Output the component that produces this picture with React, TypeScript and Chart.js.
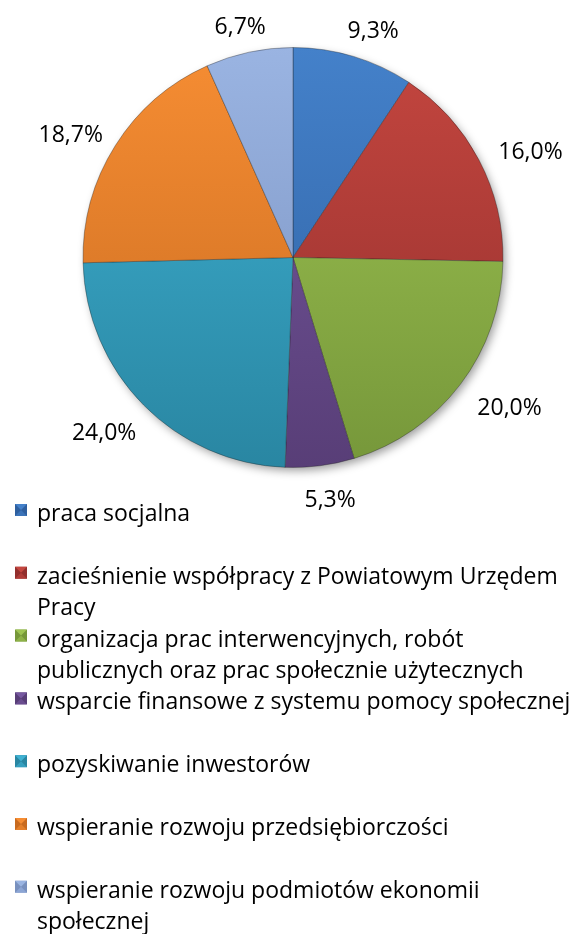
import React, { useEffect, useRef } from 'react';
import { Chart, registerables } from 'chart.js';

Chart.register(...registerables);

// ---- data ----
const categories: string[][] = [
  ['praca socjalna'],
  ['zacieśnienie współpracy z Powiatowym Urzędem', 'Pracy'],
  ['organizacja prac interwencyjnych, robót', 'publicznych oraz prac społecznie użytecznych'],
  ['wsparcie finansowe z systemu pomocy społecznej'],
  ['pozyskiwanie inwestorów'],
  ['wspieranie rozwoju przedsiębiorczości'],
  ['wspieranie rozwoju podmiotów ekonomii', 'społecznej'],
];
const shares = [9.3, 16.0, 20.0, 5.3, 24.0, 18.7, 6.7];

// ---- styles ----
const topColors = ['#4481CA', '#C4463F', '#9EC452', '#7658A0', '#3FB1D2', '#F68D33', '#9AB4E2'];
const bottomColors = ['#2E5F9F', '#922F2D', '#76973A', '#583E77', '#2986A2', '#C86B20', '#7890BE'];
const FONT_FAMILY = '"Open Sans", "DejaVu Sans", sans-serif';
const LEGEND_FONT = `23px ${FONT_FAMILY}`;
const LABEL_FONT = `23px ${FONT_FAMILY}`;
const LEGEND_FIRST_BASELINE = 521;
const LEGEND_ITEM_STEP = 62.8;
const LEGEND_LINE_STEP = 31;
const LEGEND_MARKER_X = 15;
const LEGEND_MARKER_SIZE = 12;
const LEGEND_TEXT_X = 37;
const LABEL_GAP = 16;
const LABEL_BOX_H = 20;
const LABEL_Y_SQUASH = 0.9;
const LABEL_X_SHIFT = 3;
const LABEL_Y_SHIFT = 5;

function formatPct(v: number): string {
  return v.toFixed(1).replace('.', ',') + '%';
}

const shadowPlugin = {
  id: 'pieShadow',
  beforeDatasetsDraw(chart: any) {
    const meta = chart.getDatasetMeta(0);
    if (!meta.data.length) return;
    const arc: any = meta.data[0];
    const { x, y, outerRadius } = arc.getProps(['x', 'y', 'outerRadius'], true);
    const ctx = chart.ctx;
    ctx.save();
    ctx.shadowColor = 'rgba(0,0,0,0.4)';
    ctx.shadowBlur = 10;
    ctx.shadowOffsetX = 3;
    ctx.shadowOffsetY = 4;
    ctx.fillStyle = '#ffffff';
    ctx.beginPath();
    ctx.arc(x, y, outerRadius - 1, 0, Math.PI * 2);
    ctx.fill();
    ctx.restore();
  },
};

const labelPlugin = {
  id: 'pctLabels',
  afterDatasetsDraw(chart: any) {
    const meta = chart.getDatasetMeta(0);
    const ctx = chart.ctx;
    const values = chart.data.datasets[0].data as number[];
    ctx.save();
    ctx.font = LABEL_FONT;
    ctx.fillStyle = '#000000';
    ctx.textAlign = 'center';
    ctx.textBaseline = 'alphabetic';
    meta.data.forEach((el: any, i: number) => {
      const p = el.getProps(['x', 'y', 'startAngle', 'endAngle', 'outerRadius'], true);
      const mid = (p.startAngle + p.endAngle) / 2;
      let ux = Math.cos(mid);
      let uy = Math.sin(mid) * LABEL_Y_SQUASH;
      const n = Math.hypot(ux, uy);
      ux /= n;
      uy /= n;
      const text = formatPct(values[i]);
      const m = ctx.measureText(text);
      const w = m.width;
      const d = p.outerRadius + LABEL_GAP + Math.abs(ux) * w / 2 + Math.abs(uy) * LABEL_BOX_H / 2;
      const cx = p.x + ux * d + LABEL_X_SHIFT;
      const cy = p.y + uy * d + LABEL_Y_SHIFT;
      const asc = m.actualBoundingBoxAscent || 16;
      const desc = m.actualBoundingBoxDescent || 0;
      ctx.fillText(text, cx, cy + (asc - desc) / 2);
    });
    ctx.restore();
  },
};

function drawMarker(ctx: CanvasRenderingContext2D, x: number, y: number, s: number, light: string, dark: string) {
  const cx = x + s / 2;
  const cy = y + s / 2;
  ctx.fillStyle = dark;
  ctx.fillRect(x, y, s, s);
  ctx.fillStyle = light;
  ctx.beginPath();
  ctx.moveTo(x, y);
  ctx.lineTo(x + s, y);
  ctx.lineTo(cx, cy);
  ctx.closePath();
  ctx.fill();
  ctx.globalAlpha = 0.6;
  ctx.beginPath();
  ctx.moveTo(x, y + s);
  ctx.lineTo(x + s, y + s);
  ctx.lineTo(cx, cy);
  ctx.closePath();
  ctx.fill();
  ctx.globalAlpha = 1;
}

const legendPlugin = {
  id: 'wrapLegend',
  afterDraw(chart: any) {
    const ctx = chart.ctx;
    const labels = chart.data.labels as string[][];
    ctx.save();
    ctx.font = LEGEND_FONT;
    ctx.textAlign = 'left';
    ctx.textBaseline = 'alphabetic';
    labels.forEach((lines, i) => {
      const base = LEGEND_FIRST_BASELINE + i * LEGEND_ITEM_STEP;
      drawMarker(ctx, LEGEND_MARKER_X, base - 17, LEGEND_MARKER_SIZE, topColors[i], bottomColors[i]);
      ctx.fillStyle = '#000000';
      lines.forEach((ln, j) => {
        ctx.fillText(ln, LEGEND_TEXT_X, base + j * LEGEND_LINE_STEP);
      });
    });
    ctx.restore();
  },
};

export default function App() {
  const ref = useRef<HTMLCanvasElement | null>(null);

  useEffect(() => {
    if (!ref.current) return;
    const chart = new Chart(ref.current, {
      type: 'pie',
      data: {
        labels: categories as any,
        datasets: [
          {
            data: shares,
            backgroundColor: (c: any) => {
              const area = c.chart.chartArea;
              const i = c.dataIndex;
              if (!area) return topColors[i];
              const g = c.chart.ctx.createLinearGradient(0, area.top, 0, area.bottom);
              g.addColorStop(0, topColors[i]);
              g.addColorStop(1, bottomColors[i]);
              return g;
            },
            borderColor: 'rgba(30,30,30,0.35)',
            borderWidth: 1,
          },
        ],
      },
      options: {
        responsive: false,
        animation: false,
        layout: { padding: { left: 82, right: 75, top: 47, bottom: 466 } },
        plugins: {
          legend: { display: false },
          tooltip: { enabled: false },
        },
      },
      plugins: [shadowPlugin, labelPlugin, legendPlugin],
    });
    return () => chart.destroy();
  }, []);

  return (
    <div style={{ position: 'absolute', left: 0, top: 0, width: 579, height: 934, background: '#ffffff' }}>
      <canvas ref={ref} width={579} height={934} style={{ display: 'block', width: 579, height: 934 }} />
    </div>
  );
}
